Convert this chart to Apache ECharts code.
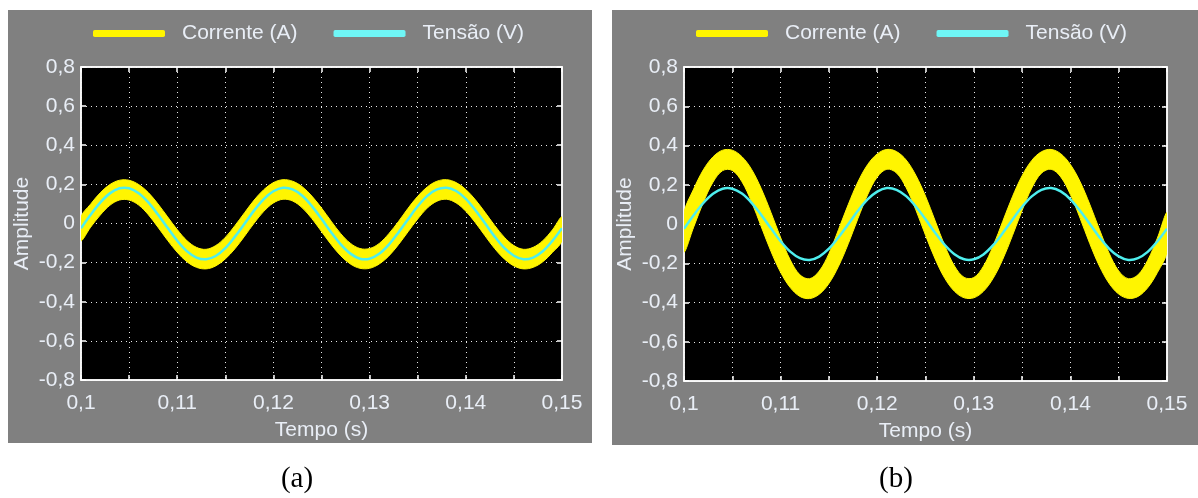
<!DOCTYPE html>
<html><head><meta charset="utf-8">
<script src="https://cdn.jsdelivr.net/npm/echarts@6/dist/echarts.min.js"></script>
<style>html,body{margin:0;padding:0;background:#fff}#c{width:1198px;height:498px}</style>
</head><body><div id="c"></div>
<script>
// sample times (s)
const time = [0.100,0.101,0.102,0.103,0.104,0.105,0.106,0.107,0.108,0.109,0.110,0.111,0.112,0.113,0.114,0.115,0.116,0.117,0.118,0.119,0.120,0.121,0.122,0.123,0.124,0.125,0.126,0.127,0.128,0.129,0.130,0.131,0.132,0.133,0.134,0.135,0.136,0.137,0.138,0.139,0.140,0.141,0.142,0.143,0.144,0.145,0.146,0.147,0.148,0.149,0.150];
// (a) voltage, current envelope
const voltA = [-0.024,0.045,0.107,0.154,0.180,0.180,0.155,0.108,0.046,-0.022,-0.088,-0.141,-0.174,-0.183,-0.166,-0.126,-0.067,-0.001,0.067,0.125,0.165,0.183,0.174,0.142,0.089,0.024,-0.045,-0.107,-0.154,-0.180,-0.180,-0.155,-0.108,-0.046,0.022,0.088,0.141,0.174,0.183,0.166,0.126,0.068,0.001,-0.067,-0.125,-0.165,-0.183,-0.174,-0.142,-0.089,-0.024];
const upperA = [0.033,0.099,0.157,0.199,0.221,0.221,0.199,0.158,0.100,0.034,-0.031,-0.087,-0.122,-0.132,-0.113,-0.071,-0.011,0.055,0.120,0.173,0.209,0.224,0.216,0.188,0.140,0.079,0.012,-0.052,-0.101,-0.128,-0.128,-0.102,-0.052,0.010,0.078,0.139,0.187,0.216,0.224,0.209,0.174,0.121,0.057,-0.010,-0.070,-0.113,-0.132,-0.122,-0.088,-0.033,0.033];
const lowerA = [-0.087,-0.019,0.043,0.093,0.120,0.120,0.094,0.045,-0.019,-0.086,-0.147,-0.195,-0.224,-0.232,-0.217,-0.181,-0.129,-0.065,0.002,0.062,0.105,0.124,0.115,0.080,0.025,-0.041,-0.107,-0.165,-0.207,-0.229,-0.229,-0.207,-0.166,-0.108,-0.042,0.023,0.079,0.114,0.124,0.105,0.063,0.004,-0.063,-0.128,-0.181,-0.217,-0.232,-0.224,-0.196,-0.148,-0.087];
// (b) voltage, current envelope
const voltB = [-0.024,0.045,0.107,0.154,0.180,0.180,0.155,0.108,0.046,-0.022,-0.088,-0.141,-0.174,-0.183,-0.166,-0.126,-0.067,-0.001,0.067,0.125,0.165,0.183,0.174,0.142,0.089,0.024,-0.045,-0.107,-0.154,-0.180,-0.180,-0.155,-0.108,-0.046,0.022,0.088,0.141,0.174,0.183,0.166,0.126,0.068,0.001,-0.067,-0.125,-0.165,-0.183,-0.174,-0.142,-0.089,-0.024];
const upperB = [0.056,0.178,0.276,0.342,0.376,0.376,0.343,0.278,0.180,0.059,-0.069,-0.183,-0.259,-0.279,-0.240,-0.151,-0.028,0.099,0.214,0.302,0.357,0.380,0.369,0.326,0.248,0.142,0.016,-0.111,-0.214,-0.272,-0.273,-0.215,-0.112,0.014,0.139,0.246,0.324,0.368,0.380,0.358,0.303,0.216,0.101,-0.027,-0.148,-0.239,-0.279,-0.259,-0.185,-0.072,0.057];
const lowerB = [-0.142,-0.016,0.110,0.213,0.272,0.273,0.215,0.112,-0.014,-0.139,-0.246,-0.324,-0.369,-0.380,-0.358,-0.303,-0.215,-0.101,0.027,0.148,0.239,0.279,0.260,0.185,0.072,-0.057,-0.178,-0.277,-0.343,-0.376,-0.376,-0.343,-0.277,-0.180,-0.059,0.069,0.183,0.259,0.279,0.240,0.150,0.030,-0.099,-0.214,-0.302,-0.357,-0.379,-0.369,-0.325,-0.248,-0.142];
const seriesNames = ['Corrente (A)', 'Tensão (V)'];
const captions = ['(a)', '(b)'];

const YEL = '#fff500', CYAN = '#4eeeee', TXT = '#e9eef6';
const FONT = "'Liberation Sans', Arial, sans-serif";
const SMOOTH = 0.35;

const grids = [
  {left: 81, top: 67, width: 481, height: 313},
  {left: 684, top: 67, width: 483, height: 314}
];
const xFmt = v => { const ms = Math.round(v * 1000); return ms % 10 ? '' : String(ms / 1000).replace('.', ','); };
const yFmt = v => String(Math.round(v * 10) / 10).replace('.', ',');

const xAxes = [], yAxes = [], series = [], legends = [];
const legendLeft = [88, 691];
const FS = 21;
[[voltA, upperA, lowerA], [voltB, upperB, lowerB]].forEach(([v, u, l], g) => {
  const splitStyle = {show: true, lineStyle: {color: '#e8e8e8', width: 1, type: [1, 4]}};
  const frame = {show: true, onZero: false, lineStyle: {color: '#fff', width: 1.5}};
  const ticks = {show: true, inside: true, length: 5, lineStyle: {color: '#fff', width: 1.5}};
  xAxes.push({type: 'value', gridIndex: g, min: 0.1, max: 0.15, interval: 0.005, position: 'bottom',
    name: 'Tempo (s)', nameLocation: 'middle', nameGap: 40,
    nameTextStyle: {color: TXT, fontSize: FS, fontFamily: FONT},
    axisLine: frame, axisTick: ticks,
    axisLabel: {formatter: xFmt, color: TXT, fontSize: FS, fontFamily: FONT, margin: 13, showMinLabel: true, showMaxLabel: true, hideOverlap: false},
    splitLine: splitStyle});
  xAxes.push({type: 'value', gridIndex: g, min: 0.1, max: 0.15, interval: 0.005, position: 'top',
    axisLine: frame, axisTick: ticks, axisLabel: {show: false}, splitLine: {show: false}});
  yAxes.push({type: 'value', gridIndex: g, min: -0.8, max: 0.8, interval: 0.2, position: 'left',
    name: 'Amplitude', nameLocation: 'middle', nameGap: 48, nameRotate: 90,
    nameTextStyle: {color: TXT, fontSize: FS, fontFamily: FONT},
    axisLine: frame, axisTick: ticks,
    axisLabel: {formatter: yFmt, color: TXT, fontSize: FS, fontFamily: FONT, margin: 6},
    splitLine: splitStyle});
  yAxes.push({type: 'value', gridIndex: g, min: -0.8, max: 0.8, interval: 0.2, position: 'right',
    axisLine: frame, axisTick: ticks, axisLabel: {show: false}, splitLine: {show: false}});
  const xi = g * 2, yi = g * 2;
  // current: band between upper and lower envelope of the ripple
  series.push({name: seriesNames[0], type: 'custom', xAxisIndex: xi, yAxisIndex: yi, clip: true, silent: true, z: 2,
    itemStyle: {color: YEL},
    data: time.map((t, i) => [t, u[i], l[i]]),
    encode: {x: 0, y: [1, 2]},
    renderItem: (params, api) => {
      if (params.dataIndex !== 0) return null;
      const pts = [];
      for (let i = 0; i < time.length; i++) pts.push(api.coord([time[i], u[i]]));
      for (let i = time.length - 1; i >= 0; i--) pts.push(api.coord([time[i], l[i]]));
      return {type: 'polygon', shape: {points: pts, smooth: SMOOTH}, style: {fill: YEL, stroke: YEL, lineWidth: 1}};
    }});
  // voltage
  series.push({name: seriesNames[1], type: 'custom', xAxisIndex: xi, yAxisIndex: yi, clip: true, silent: true, z: 3,
    itemStyle: {color: CYAN},
    data: time.map((t, i) => [t, v[i]]),
    encode: {x: 0, y: 1},
    renderItem: (params, api) => {
      if (params.dataIndex !== 0) return null;
      const pts = time.map((t, i) => api.coord([t, v[i]]));
      return {type: 'polyline', shape: {points: pts, smooth: SMOOTH}, style: {fill: 'none', stroke: CYAN, lineWidth: 2.5}};
    }});
  legends.push({left: legendLeft[g], top: 18, itemWidth: 72, itemHeight: 7, itemGap: 36, selectedMode: false,
    textStyle: {color: TXT, fontSize: FS, fontFamily: FONT, padding: [0, 0, 0, 12]},
    data: [{name: seriesNames[0], icon: 'roundRect', itemStyle: {color: YEL}},
           {name: seriesNames[1], icon: 'roundRect', itemStyle: {color: '#6ff6f6'}}]});
});

const chart = echarts.init(document.getElementById('c'), null, {renderer: 'canvas'});
chart.setOption({
  backgroundColor: '#fff',
  animation: false,
  graphic: [
    {type: 'rect', z: -10, shape: {x: 8, y: 10, width: 584, height: 433}, style: {fill: '#808080'}},
    {type: 'rect', z: -10, shape: {x: 612, y: 10, width: 590, height: 435}, style: {fill: '#808080'}},
    {type: 'text', x: 297, y: 479, style: {text: captions[0], font: "29px 'Liberation Serif', serif", fill: '#000', align: 'center', verticalAlign: 'middle'}},
    {type: 'text', x: 896, y: 479, style: {text: captions[1], font: "29px 'Liberation Serif', serif", fill: '#000', align: 'center', verticalAlign: 'middle'}}
  ],
  legend: legends,
  grid: grids.map(g => Object.assign({show: true, backgroundColor: '#000', borderColor: '#fff', borderWidth: 1.5, containLabel: false}, g)),
  xAxis: xAxes,
  yAxis: yAxes,
  series: series
});
</script></body></html>
